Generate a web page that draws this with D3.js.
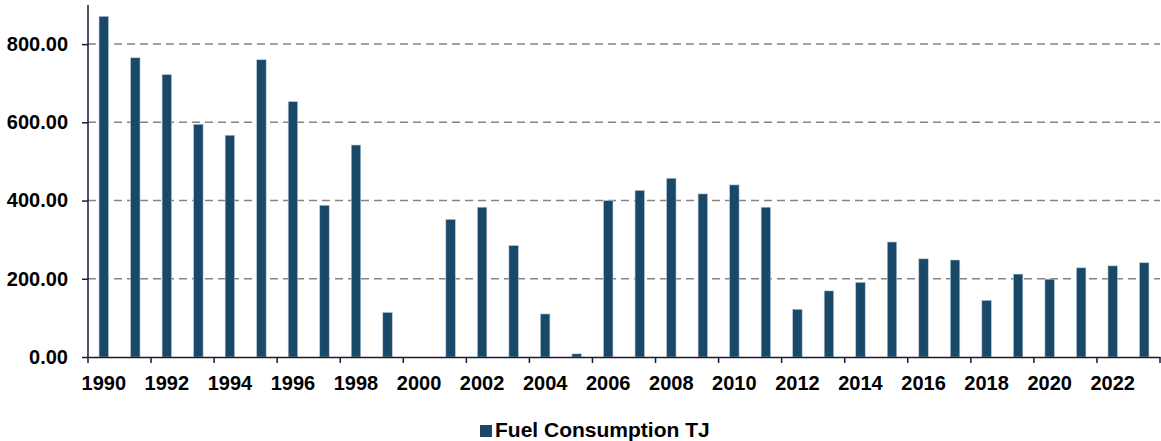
<!DOCTYPE html>
<html><head><meta charset="utf-8">
<script src="https://cdn.jsdelivr.net/npm/d3@7"></script>
<style>body{margin:0;background:#fff;}svg{display:block;font-family:"Liberation Sans",Arial,sans-serif;}</style>
</head><body><svg id="c" width="1161" height="441"></svg>
<script>
const years = d3.range(1990, 2024).map(String);
const fuelTJ = [871,765,722,595,567,760,653,388,542,114,0,352,383,285,110,8,400,426,457,417,440,383,122,169,191,294,251,248,145,212,199,228,233,241];
const yTicks = [0,200,400,600,800];
const seriesName = "Fuel Consumption TJ";

const svg = d3.select("#c");
const m = {l:88, r:1, t:5, b:84};
const W = 1161, H = 441;
const x = d3.scaleBand().domain(years).range([m.l, W - m.r]).paddingInner(0).paddingOuter(0);
const y = d3.scaleLinear().domain([0, 900]).range([H - m.b, m.t]);
const color = "#1a4868";
const ff = '"Liberation Sans",Arial,sans-serif';

// grid
svg.append("g").selectAll("line").data(yTicks.filter(d=>d>0)).join("line")
  .attr("x1", m.l).attr("x2", W - m.r)
  .attr("y1", d=>y(d)).attr("y2", d=>y(d))
  .attr("stroke", "#848484").attr("stroke-width", 1.5).attr("stroke-dasharray", "8,5");

// bars
const bw = x.bandwidth()*0.3;
svg.append("g").selectAll("rect").data(years.map((yr,i)=>({yr, v:fuelTJ[i]}))).join("rect")
  .attr("x", d=>x(d.yr) + (x.bandwidth()-bw)/2)
  .attr("width", bw)
  .attr("y", d=>y(d.v))
  .attr("height", d=>y(0)-y(d.v))
  .attr("fill", color)
  .attr("stroke", "#b8c8d6").attr("stroke-width", 0.6);

// y axis
const ya = svg.append("g").attr("transform", `translate(${m.l},0)`)
  .call(d3.axisLeft(y).tickValues(yTicks).tickFormat(d3.format(".2f")).tickSize(6).tickSizeOuter(0));
ya.select(".domain").attr("stroke", "#1a1a33").attr("stroke-width", 1.5).attr("d", `M0,${y(0)}V${m.t}`);
ya.selectAll(".tick line").attr("stroke", "#1a1a33").attr("stroke-width", 1.5);
ya.selectAll(".tick text").attr("font-size", 20).attr("font-weight", "bold").attr("fill", "#000")
  .attr("font-family", ff).attr("x", -20);

// x axis
const xa = svg.append("g").attr("transform", `translate(0,${y(0)})`)
  .call(d3.axisBottom(x).tickValues(years.filter((d,i)=>i%2===0)).tickSize(0).tickSizeOuter(0));
xa.select(".domain").attr("stroke", "#1a1a33").attr("stroke-width", 1.5);
xa.selectAll(".tick text").attr("font-size", 20).attr("font-weight", "bold").attr("fill", "#000")
  .attr("font-family", ff).attr("y", 33).attr("dy", 0);
const bounds = years.filter((d,i)=>i%2===0).map(d=>x(d)).concat([W - m.r]);
xa.append("g").selectAll("line").data(bounds).join("line")
  .attr("x1", d=>d).attr("x2", d=>d).attr("y1", 0).attr("y2", 6)
  .attr("stroke", "#1a1a33").attr("stroke-width", 1.5);

// legend
const lg = svg.append("g");
lg.append("rect").attr("x", 480).attr("y", 425).attr("width", 12).attr("height", 12).attr("fill", color);
lg.append("text").attr("x", 495).attr("y", 437).attr("font-size", 21).attr("font-weight", "bold")
  .attr("fill", "#000").attr("font-family", ff).text(seriesName);
</script></body></html>
